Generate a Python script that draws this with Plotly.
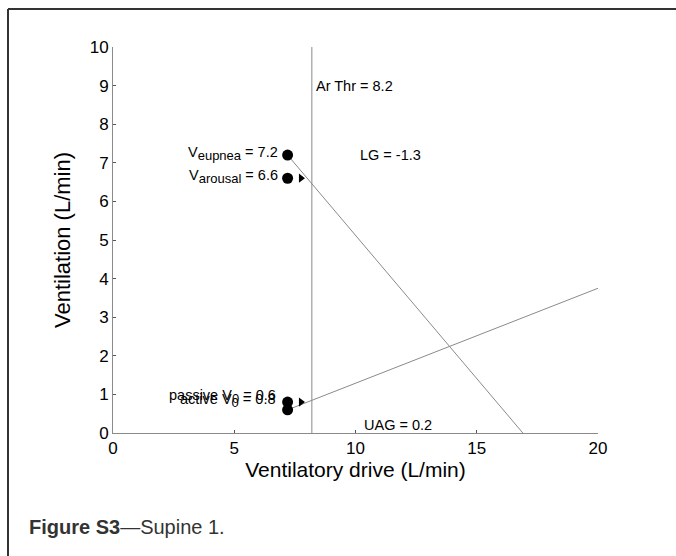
import plotly.graph_objects as go

# Data
drive_eupnea = 7.2
v_eupnea = 7.2
v_arousal = 6.6
active_v0 = 0.8
passive_v0 = 0.6
ar_thr = 8.2
arrow_x = 7.75
lg_line_x = [7.2, 16.9]
lg_line_y = [7.2, 0.0]
uag_line_x = [7.2, 20.0]
uag_line_y = [0.6, 3.75]
x_ticks = [0, 5, 10, 15, 20]
y_ticks = [0, 1, 2, 3, 4, 5, 6, 7, 8, 9, 10]

FONT = "Liberation Sans, Arial, sans-serif"
GRAY = "#8a8a8a"

fig = go.Figure()
fig.add_trace(go.Scatter(x=lg_line_x, y=lg_line_y, mode="lines",
                         line=dict(color=GRAY, width=1), showlegend=False))
fig.add_trace(go.Scatter(x=uag_line_x, y=uag_line_y, mode="lines",
                         line=dict(color=GRAY, width=1), showlegend=False))
fig.add_trace(go.Scatter(x=[ar_thr, ar_thr], y=[0, 10], mode="lines",
                         line=dict(color=GRAY, width=1), showlegend=False))
fig.add_trace(go.Scatter(x=[drive_eupnea] * 4,
                         y=[v_eupnea, v_arousal, active_v0, passive_v0],
                         mode="markers", marker=dict(color="black", size=11),
                         showlegend=False))
fig.add_trace(go.Scatter(x=[arrow_x, arrow_x], y=[v_arousal, active_v0],
                         mode="markers",
                         marker=dict(color="black", size=8, symbol="triangle-right"),
                         showlegend=False))

ann_font = dict(family=FONT, size=14.5, color="black")


def sub(s):
    return '<sub><span style="font-size:13px">' + s + '</span></sub>'


anns = [
    dict(x=ar_thr, y=9, text="Ar Thr = 8.2", xanchor="left", xshift=2),
    dict(x=10.1, y=7.2, text="LG = -1.3", xanchor="left"),
    dict(x=drive_eupnea, y=v_eupnea, text="V" + sub("eupnea") + " = 7.2", xanchor="right", xshift=-8, yshift=2),
    dict(x=drive_eupnea, y=v_arousal, text="V" + sub("arousal") + " = 6.6", xanchor="right", xshift=-8, yshift=2),
    dict(x=drive_eupnea, y=active_v0, text="passive V" + sub("0") + " = 0.6", xanchor="right", xshift=-10, yshift=6),
    dict(x=drive_eupnea, y=passive_v0, text="active V" + sub("0") + " = 0.8", xanchor="right", xshift=-10, yshift=9),
    dict(x=10.25, y=0.2, text="UAG = 0.2", xanchor="left"),
]
for a in anns:
    fig.add_annotation(xref="x", yref="y", showarrow=False, font=ann_font, **a)

fig.add_annotation(xref="paper", yref="paper", x=-0.1773, y=-0.2435,
                   xanchor="left", yanchor="middle", showarrow=False,
                   text="<b>Figure S3</b>—Supine 1.",
                   font=dict(family=FONT, size=20, color="#333333"))

# page frame (top and left)
fig.add_shape(type="line", xref="paper", yref="paper", x0=-0.2165, x1=1.2, y0=1.0984, y1=1.0984,
              line=dict(color="#333333", width=2))
fig.add_shape(type="line", xref="paper", yref="paper", x0=-0.2165, x1=-0.2165, y0=1.0984, y1=-0.33,
              line=dict(color="#333333", width=2))

fig.update_xaxes(range=[0, 20], tickvals=x_ticks, ticks="inside", ticklen=3,
                 tickcolor="#555", showline=True, linecolor=GRAY, linewidth=1,
                 showgrid=False, zeroline=False,
                 tickfont=dict(family=FONT, size=17, color="black"),
                 title=dict(text="Ventilatory drive (L/min)", standoff=0,
                            font=dict(family=FONT, size=21, color="black")))
fig.update_yaxes(range=[0, 10], tickvals=y_ticks, ticks="inside", ticklen=3,
                 tickcolor="#555", showline=True, linecolor=GRAY, linewidth=1,
                 showgrid=False, zeroline=False,
                 tickfont=dict(family=FONT, size=17, color="black"),
                 title=dict(text="Ventilation (L/min)", standoff=12,
                            font=dict(family=FONT, size=22, color="black")))

fig.update_layout(width=676, height=556, plot_bgcolor="white", paper_bgcolor="white",
                  margin=dict(l=113, r=78, t=47, b=123), showlegend=False)

fig.write_html("out.html")
